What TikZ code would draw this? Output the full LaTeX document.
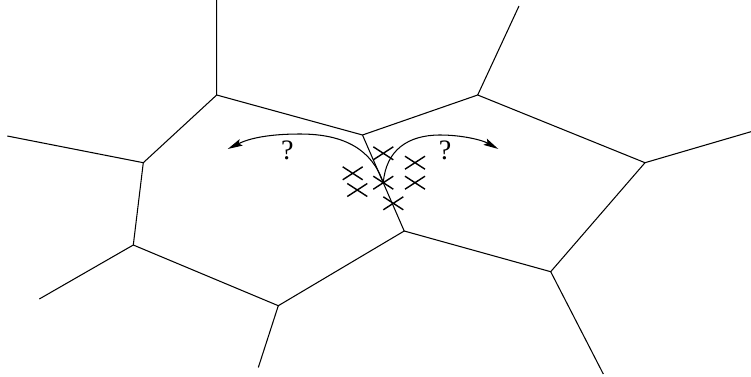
\documentclass[tikz,border=0pt]{standalone}
\usepackage{fontspec}
\setmainfont{Liberation Serif}
\usetikzlibrary{arrows.meta}
\begin{document}
\begin{tikzpicture}[x=0.02cm,y=-0.02cm,
  edge/.style={line width=0.6pt},
  flow/.style={line width=0.6pt,-{Stealth[length=8.5pt,width=4pt,inset=1.5pt]}},
  qmark/.style={font=\fontsize{16}{18}\selectfont,inner sep=0pt},
  xmark/.pic={\draw[line width=0.8pt] (-10,-6.5)--(10,6.5) (-10,6.5)--(10,-6.5);}]
\useasboundingbox (0,0) rectangle (751,376);
% vertices
\coordinate (A) at (216.7,95);
\coordinate (B) at (143.3,162.7);
\coordinate (C) at (133.3,245);
\coordinate (D) at (278.3,305.7);
\coordinate (E) at (362.5,135);
\coordinate (F) at (404.2,231);
\coordinate (G) at (477.7,95);
\coordinate (H) at (645,162.7);
\coordinate (I) at (550.7,271.7);
% outer ends
\coordinate (a) at (216.7,0);
\coordinate (b) at (7.3,136);
\coordinate (c) at (39.3,299);
\coordinate (d) at (258.3,367.5);
\coordinate (g) at (519,6);
\coordinate (h) at (751,131.7);
\coordinate (i) at (603.3,374);
% cells
\draw[edge] (A)--(B)--(C)--(D)--(F)--(E)--cycle;
\draw[edge] (E)--(G)--(H)--(I)--(F);
\draw[edge] (A)--(a) (B)--(b) (C)--(c) (D)--(d) (G)--(g) (H)--(h) (I)--(i);
% crosses
\coordinate (x1) at (383.3,153.3);
\coordinate (x2) at (352.7,173.3);
\coordinate (x3) at (357.3,190);
\coordinate (x4) at (383.3,182.7);
\coordinate (x5) at (415,162.7);
\coordinate (x6) at (415,182.7);
\coordinate (x7) at (393.3,203.3);
\foreach \p in {x1,x2,x3,x4,x5,x6,x7} \pic at (\p) {xmark};
% arrows
\coordinate (lt) at (227.7,149);
\coordinate (rt) at (498.3,149);
\draw[flow] (x4) .. controls (372,150) and (345,134) .. (300,134)
            .. controls (270,134) and (250,138) .. (lt);
\draw[flow] (x4) .. controls (386,150) and (408,135) .. (440,135)
            .. controls (462,135) and (482,140) .. (rt);
\node[qmark] (q1) at (287.3,150) {?};
\node[qmark] (q2) at (445,150) {?};
\end{tikzpicture}
\end{document}
